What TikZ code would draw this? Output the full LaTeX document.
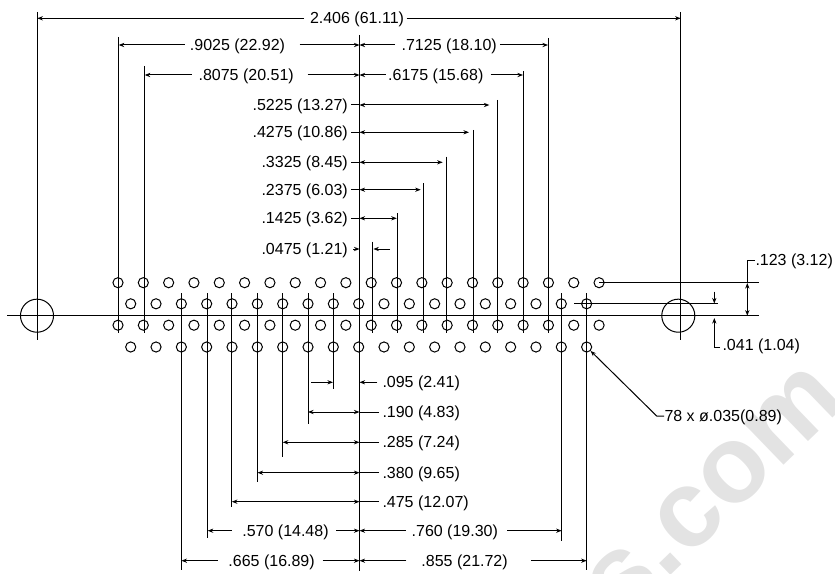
\documentclass[tikz,border=0pt]{standalone}
\usepackage{fontspec}
\setmainfont{Liberation Sans}
\usetikzlibrary{arrows.meta}

\begin{document}
\begin{tikzpicture}[x=0.75pt, y=-0.75pt, line width=0.75pt, font=\fontsize{12}{14}\selectfont,
        >={Stealth[length=4.2pt, width=3.2pt]},
        hole/.style={draw, circle, inner sep=0pt, minimum size=7.6pt},
        mount/.style={draw, circle, inner sep=0pt, minimum size=24.8pt},
        dimtext/.style={inner sep=0pt, text height=10.9pt, text depth=2.5pt}]
        \clip (0,0) rectangle (835,574);

        % Draw the faint mark behind the drawing
        \node (mark) [inner sep=0pt, rotate=44, text=black!11, font=\fontsize{82}{90}\selectfont\bfseries] at (715,492) {s.com};

        % Draw the holes
        \foreach \i in {0,...,19} {
            \node (ra\i) [hole] at (118+25.32*\i,282.7) {};
            \node (rc\i) [hole] at (118+25.32*\i,325.2) {};
        }
        \foreach \i in {0,...,18} {
            \node (rb\i) [hole] at (130.7+25.33*\i,303.8) {};
            \node (rd\i) [hole] at (130.7+25.33*\i,347) {};
        }
        \node (mountl) [mount] at (37,315.7) {};
        \node (mountr) [mount] at (678.3,315.7) {};

        % Draw the centre lines
        \coordinate (ctop) at (359.5,35);
        \coordinate (cbot) at (359.5,571);
        \draw (ctop) -- (cbot);
        \draw (7.3,315.7) -- (759,315.7);
        \draw (ra19.center) -- (759,282.7);
        \coordinate (rowb) at (574,303.8);
        \draw (rowb) -- (717.7,303.8);
        \coordinate (mtl) at (37.3,12);
        \coordinate (mtr) at (680.7,12);
        \draw (mtl) -- (37.3,340);
        \draw (mtr) -- (680.7,340);

        % Draw the extension lines going up
        \foreach \n/\x/\t in {up9025/118.7/37, up8075/144.7/66, up0475/372/241.7, up1425/397.7/213.3, up2375/423/183.3,
                up3325/446.7/156.7, up4275/473/130, up5225/497/100, up6175/523/71, up7125/548/38} {
            \coordinate (\n) at (\x,\t);
            \draw (\n) -- (\x,333);
        }

        % Draw the extension lines going down
        \foreach \n/\x/\b in {lo665/181.4/570, lo570/207.7/538, lo475/231.8/506.7, lo380/257.5/482, lo285/282.7/456.7,
                lo190/308/424, lo095/333/389, lo760/561.7/541, lo855/586.7/570} {
            \coordinate (\n) at (\x,\b);
            \draw (\x,293) -- (\n);
        }

        % Add the overall width
        \node (d2406) [dimtext] at (357,18.3) {2.406 (61.11)};
        \draw [->, shorten <=4pt] (d2406.west) -- (d2406.west -| mtl);
        \draw [->, shorten <=1.5pt] (d2406.east) -- (d2406.east -| mtr);

        % Add the dimensions with text between two arrows
        \node (d9025) [dimtext] at (237.5,45) {.9025 (22.92)};
        \draw [->, shorten <=3.5pt] (d9025.west) -- (d9025.west -| up9025);
        \draw [->, shorten <=10.5pt] (d9025.east) -- (d9025.east -| ctop);
        \node (d7125) [dimtext] at (449.2,45) {.7125 (18.10)};
        \draw [->, shorten <=4.5pt] (d7125.west) -- (d7125.west -| ctop);
        \draw [->, shorten <=2pt] (d7125.east) -- (d7125.east -| up7125);
        \node (d8075) [dimtext] at (246.2,75) {.8075 (20.51)};
        \draw [->, shorten <=4.7pt] (d8075.west) -- (d8075.west -| up8075);
        \draw [->, shorten <=10pt] (d8075.east) -- (d8075.east -| ctop);
        \node (d6175) [dimtext] at (435.8,75) {.6175 (15.68)};
        \draw [->, shorten <=1.5pt] (d6175.west) -- (d6175.west -| ctop);
        \draw [->, shorten <=5pt] (d6175.east) -- (d6175.east -| up6175);

        % Add the short dimensions above the holes
        \foreach \n/\t/\y in {d5225/.5225 (13.27)/105, d4275/.4275 (10.86)/132.3, d3325/.3325 (8.45)/162.3,
                d2375/.2375 (6.03)/189.7, d1425/.1425 (3.62)/218.3} {
            \node (\n) [dimtext, anchor=east] at (348.3,\y) {\t};
            \draw (\n.east) ++(3,0) -- (\n.east -| ctop);
        }
        \draw [<->, shorten >=5.7pt] (d5225.east -| ctop) -- (d5225.east -| up5225);
        \draw [<->, shorten >=3pt] (d4275.east -| ctop) -- (d4275.east -| up4275);
        \draw [<->, shorten >=3pt] (d3325.east -| ctop) -- (d3325.east -| up3325);
        \draw [<->, shorten >=1.7pt] (d2375.east -| ctop) -- (d2375.east -| up2375);
        \draw [<->, shorten >=0.7pt] (d1425.east -| ctop) -- (d1425.east -| up1425);
        \node (d0475) [dimtext, anchor=east] at (348.3,249) {.0475 (1.21)};
        \draw [->, shorten <=3.7pt] (d0475.east) -- (d0475.east -| ctop);
        \draw [->, shorten >=1pt] (390,249) -- (d0475.east -| up0475);

        % Add the short dimensions below the holes
        \node (d095) [dimtext, anchor=west] at (382,382.3) {.095 (2.41)};
        \draw [->, shorten <=3.5pt] (d095.west) -- (d095.west -| ctop);
        \draw [->] (311,382.3) -- (d095.west -| lo095);
        \foreach \n/\t/\y/\e in {d190/.190 (4.83)/412/lo190, d285/.285 (7.24)/442.3/lo285,
                d380/.380 (9.65)/472.7/lo380, d475/.475 (12.07)/501.7/lo475} {
            \node (\n) [dimtext, anchor=west] at (382,\y) {\t};
            \draw (\n.west) ++(-3,0) -- (\n.west -| ctop);
            \draw [<->] (\n.west -| \e) -- (\n.west -| ctop);
        }

        % Add the long dimensions below the holes
        \node (d570) [dimtext] at (285.5,530.7) {.570 (14.48)};
        \draw [->, shorten <=7.5pt] (d570.west) -- (d570.west -| lo570);
        \draw [->, shorten <=5.5pt] (d570.east) -- (d570.east -| ctop);
        \node (d760) [dimtext] at (454.8,530.7) {.760 (19.30)};
        \draw [->, shorten <=4pt] (d760.west) -- (d760.west -| ctop);
        \draw [->, shorten <=6.5pt] (d760.east) -- (d760.east -| lo760);
        \node (d665) [dimtext] at (271.6,560.7) {.665 (16.89)};
        \draw [->, shorten <=7.5pt] (d665.west) -- (d665.west -| lo665);
        \draw [->, shorten <=5.5pt] (d665.east) -- (d665.east -| ctop);
        \node (d855) [dimtext] at (464.6,560.7) {.855 (21.72)};
        \draw [->, shorten <=11pt] (d855.west) -- (d855.west -| ctop);
        \draw [->, shorten <=17pt] (d855.east) -- (d855.east -| lo855);

        % Add the row spacings on the right
        \node (d123) [dimtext, anchor=west] at (755,260) {.123 (3.12)};
        \coordinate (k123) at (747.3,260);
        \draw (d123.west) -- (k123) -- (747.3,283);
        \draw [<->] (747.3,283) -- (747.3,315.7);
        \node (d041) [dimtext, anchor=west] at (722,345) {.041 (1.04)};
        \coordinate (k041) at (714.3,347);
        \draw [->] (720,347) -- (k041) -- (714.3,318);
        \draw [->] (714.3,291.7) -- (714.3,303.5);

        % Add the hole callout
        \node (d78) [dimtext, anchor=west] at (664,416) {78 x ø.035(0.89)};
        \coordinate (k78) at (656.7,416);
        \draw [->] (d78.west) -- (k78) -- (rd18);
\end{tikzpicture}
\end{document}
